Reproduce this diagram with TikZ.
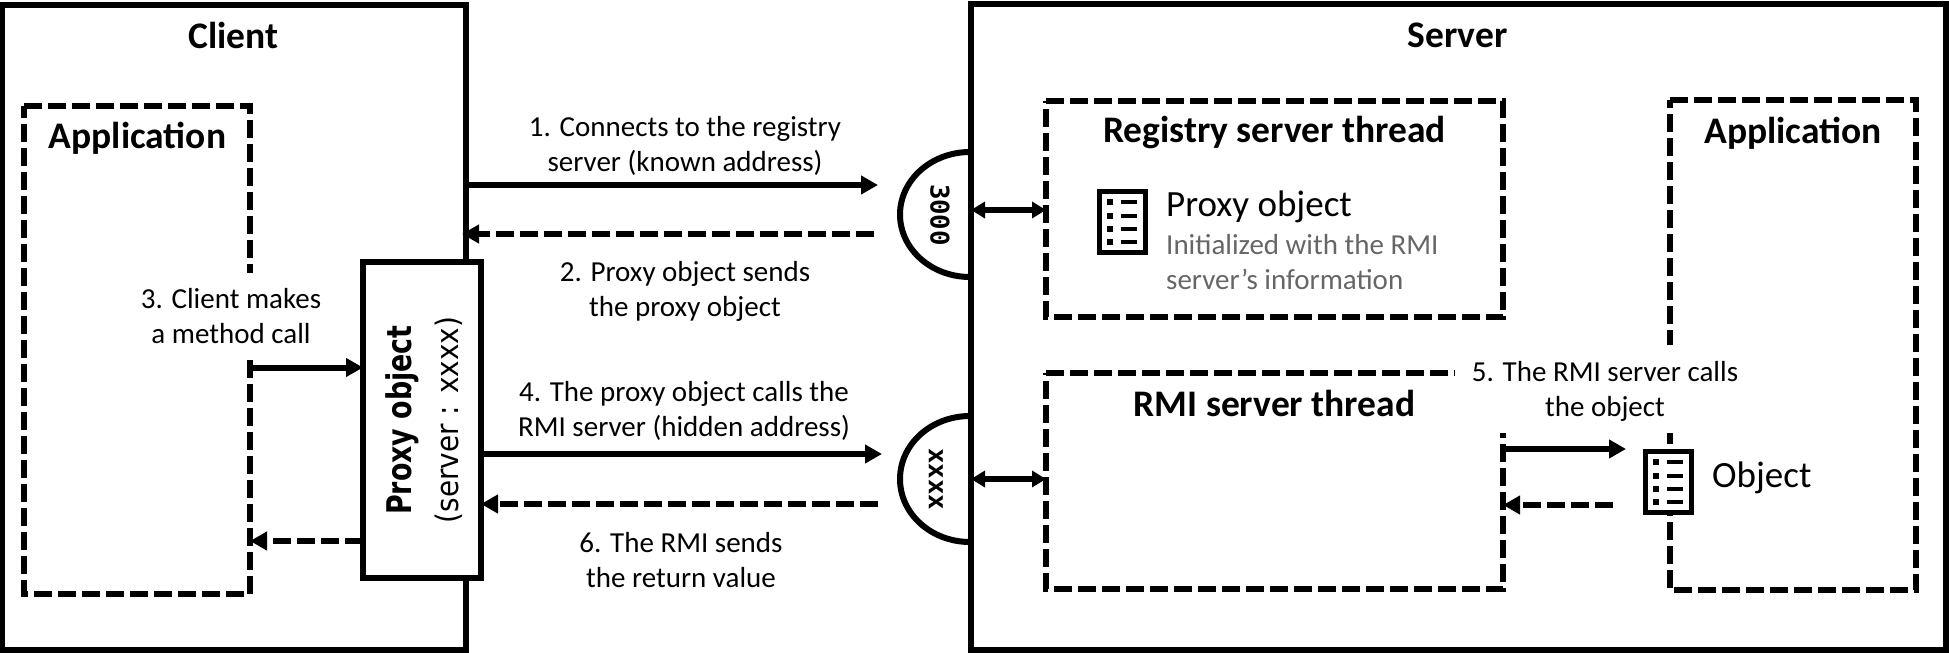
\documentclass[tikz,border=0pt]{standalone}
\usepackage{fontspec}
\usepackage{graphicx}
\setmainfont{Carlito}
\newfontfamily\vfont{DejaVu Sans}
\newfontfamily\mfont{DejaVu Sans Mono}
\usetikzlibrary{arrows.meta}
\newcommand{\fsz}[1]{\fontsize{#1}{#1}\selectfont}
\tikzset{
  solidbox/.style={draw,line width=6pt,inner sep=0pt,outer sep=0pt},
  area/.style={inner sep=0pt,outer sep=0pt},
  dashline/.style={line width=6pt,dash pattern=on 18pt off 6pt},
  title/.style={font=\fsz{37.5}\bfseries,inner sep=0pt},
  lab/.style={font=\fsz{29},inner sep=0pt,align=center},
  cover/.style={fill=white,inner sep=0pt,outer sep=0pt,font=\fsz{29},align=center},
  conn/.style={line width=6pt,-{Triangle[length=17pt,width=18pt]}},
  back/.style={line width=6pt,dash pattern=on 18pt off 6pt,-{Triangle[length=17pt,width=18pt]}},
  both/.style={line width=6pt,{Triangle[length=14pt,width=16pt]}-{Triangle[length=14pt,width=16pt]}},
  port/.style={line width=6pt},
  docbox/.style={draw,fill=white,line width=5pt,minimum width=46pt,minimum height=61pt,inner sep=0pt,outer sep=0pt},
  docdot/.style={fill=black,minimum size=6pt,inner sep=0pt},
}
\newcommand{\docmarks}[1]{%
  \foreach \i/\d in {1/-20,2/-7,3/6,4/20}{
    \node[docdot] (#1dot\i) at ([xshift=-13pt,yshift=\d pt]#1.center) {};
    \draw[line width=3.5pt] ([xshift=-2pt,yshift=\d pt]#1.center) -- ([xshift=14pt,yshift=\d pt]#1.center);
  }}
\begin{document}
\begin{tikzpicture}[x=1pt,y=-1pt]
\useasboundingbox (0,0) rectangle (1949,653);
\fill[white] (0,0) rectangle (1949,653);
% outer boxes
\node[solidbox,minimum width=464pt,minimum height=645pt] (client) at (234,327.5) {};
\node[solidbox,minimum width=975pt,minimum height=646pt] (server) at (1458.5,327) {};
\node[title] (clienttitle) at (233.5,35.5) {Client};
\node[title] (servertitle) at (1457.5,35.5) {Server};
% dashed boxes
\node[area,minimum width=226pt,minimum height=488pt] (capp) at (137,350) {};
\draw[dashline] (capp.north west) -- (capp.north east) -- (capp.south east) -- (capp.south west) -- cycle;
\node[title] (capptitle) at (137.5,138) {Application};
\node[area,minimum width=457pt,minimum height=216pt] (reg) at (1274.5,209) {};
\draw[dashline] (reg.north west) -- (reg.north east) -- (reg.south east) -- (reg.south west) -- cycle;
\node[title] (regtitle) at (1274.5,133) {Registry server thread};
\node[area,minimum width=457pt,minimum height=216pt] (rmi) at (1274.5,481) {};
\draw[dashline] (rmi.north west) -- (rmi.north east) -- (rmi.south east) -- (rmi.south west) -- cycle;
\node[title] (rmititle) at (1274.5,403.5) {RMI server thread};
\node[area,minimum width=246pt,minimum height=490pt] (sapp) at (1793,345) {};
\draw[dashline] (sapp.north west) -- (sapp.north east) -- (sapp.south east) -- (sapp.south west) -- cycle;
\node[title] (sapptitle) at (1793,133) {Application};
% ports
\draw[port] (970,152) .. controls (931.3,152) and (900,180) .. (900,214.5) .. controls (900,249) and (931.3,277) .. (970,277);
\draw[port] (970,416) .. controls (931.3,416) and (900,444) .. (900,479) .. controls (900,514) and (931.3,542) .. (970,542);
\node[rotate=-90,font=\mfont\bfseries\fsz{25.7},inner sep=0pt] (p3000) at (940,215) {3000};
\node[rotate=-90,font=\mfont\bfseries\fsz{25.7},inner sep=0pt] (pxxxx) at (936,479) {xxxx};
% proxy box
\node[solidbox,line width=5.5pt,fill=white,minimum width=118pt,minimum height=316pt] (proxy) at (422,420) {};
\node[rotate=90,font=\vfont\fsz{34}\bfseries,inner sep=0pt] (proxyname) at (402,420) {\scalebox{0.79}[1]{Proxy object}};
\node[rotate=90,font=\vfont\fsz{31},inner sep=0pt] (proxyaddr) at (449,420) {\scalebox{0.9}[1]{(server : xxxx)}};
% covering labels
\node[cover,minimum width=180pt,minimum height=87pt] (l3) at (231,316.5) {3. Client makes\\[6pt]a method call};
\node[cover,minimum width=286pt,minimum height=88pt] (l5) at (1598,389) {};
\node[lab] (l5t) at (1605,391) {5. The RMI server calls\\[6pt]the object};
% labels
\node[lab] (l1) at (685,145.5) {1. Connects to the registry\\[6pt]server (known address)};
\node[lab] (l2) at (685,291) {2. Proxy object sends\\[6pt]the proxy object};
\node[lab] (l4) at (684,410.5) {4. The proxy object calls the\\[6pt]RMI server (hidden address)};
\node[lab] (l6) at (681,560) {6. The RMI sends\\[6pt]the return value};
% free ends
\coordinate (e1) at (878,185);
\coordinate (s2) at (874,234);
\coordinate (e4) at (882,454);
\coordinate (s6) at (878,504);
\coordinate (e5) at (1626,449);
\coordinate (s5b) at (1613,505);
\coordinate (y3) at (0,367.5);
\coordinate (y3b) at (0,541);
\coordinate (yd1) at (0,210);
\coordinate (yd2) at (0,479);
% connectors
\draw[conn] (client.east |- e1) -- (e1);
\draw[back] (s2) -- ([xshift=-4pt]client.east |- s2);
\draw[conn] (proxy.east |- e4) -- (e4);
\draw[back] (s6) -- (proxy.east |- s6);
\draw[conn] (capp.east |- y3) -- (proxy.west |- y3);
\draw[back] (proxy.west |- y3b) -- (capp.east |- y3b);
\draw[conn] (rmi.east |- e5) -- (e5);
\draw[back] (s5b) -- (rmi.east |- s5b);
\draw[both] (server.west |- yd1) -- (reg.west |- yd1);
\draw[both] (server.west |- yd2) -- (rmi.west |- yd2);
% icons
\node[docbox] (doc1) at (1122.5,222) {};
\docmarks{doc1}
\node[docbox] (doc2) at (1668.5,482) {};
\docmarks{doc2}
% object texts
\node[anchor=west,font=\fsz{37},inner sep=0pt] (pobj) at (1166,207) {Proxy object};
\node[anchor=north west,font=\fsz{29},text=black!60,inner sep=0pt,align=left] (pinfo) at (1166,234) {Initialized with the RMI\\[6pt]server’s information};
\node[anchor=west,font=\fsz{37},inner sep=0pt] (obj) at (1712,478) {Object};
\end{tikzpicture}
\end{document}
